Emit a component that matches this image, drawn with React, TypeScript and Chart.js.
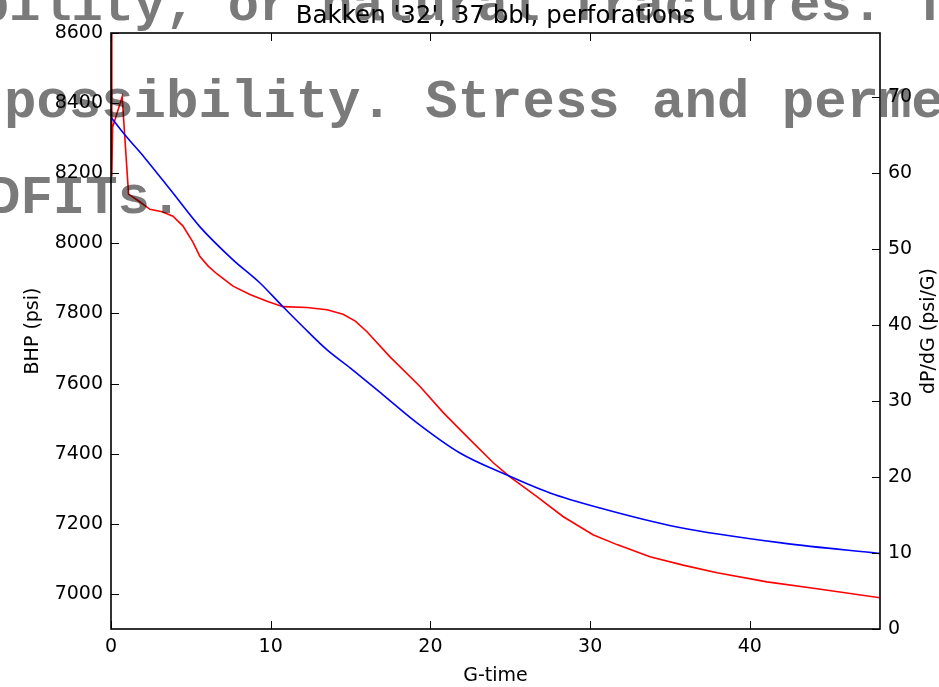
import React, { useEffect, useRef } from 'react';
import { Chart, registerables } from 'chart.js';

Chart.register(...registerables);

const chartTitle = "Bakken '32', 37 bbl, perforations";
const xTitle = 'G-time';
const leftTitle = 'BHP (psi)';
const rightTitle = 'dP/dG (psi/G)';

// BHP (left axis, blue)
const bhpG = [0, 0.88, 2.13, 3.82, 5.57, 7.64, 9.33, 10.77, 12.02, 13.53, 14.97, 17.03, 19.16, 21.85, 24.8, 27.49, 30.62, 35.44, 42.08, 48.2];
const bhpValues = [8360, 8309, 8243, 8147, 8047, 7953, 7887, 7819, 7762, 7696, 7645, 7568, 7488, 7402, 7339, 7288, 7245, 7191, 7145, 7115];

// dP/dG (right axis, red)
const derivG = [0, 0.05, 0.1, 0.7, 1.1, 1.8, 2.44, 3.2, 3.88, 4.51, 5.13, 5.57, 6.1, 6.64, 7.64, 8.7, 9.77, 10.77, 12.27, 13.53, 14.53, 15.3, 16.03, 17.47, 19.35, 20.79, 22.29, 23.92, 24.98, 26.67, 28.3, 30.18, 31.68, 33.75, 35.82, 37.95, 41.08, 44.21, 48.2];
const derivValues = [140, 59.5, 66, 70.0, 57.2, 56.2, 55.2, 54.9, 54.3, 53.0, 50.9, 49.0, 47.7, 46.7, 45.1, 44.0, 43.1, 42.4, 42.3, 42.0, 41.4, 40.5, 39.1, 35.8, 31.9, 28.5, 25.3, 21.9, 20.0, 17.4, 14.8, 12.4, 11.1, 9.5, 8.4, 7.4, 6.2, 5.3, 4.1];

// overlapping page text (grey)
const overlayText = ['bility, or natural fractures. T', 'possibility. Stress and permeability', 'DFITs.'];

const FONT = '"DejaVu Sans", "Noto Sans", sans-serif';
const plain = (v: any) => String(v);

const framePlugin = {
  id: 'frame',
  afterDatasetsDraw(chart: any) {
    const { ctx, chartArea: a, scales } = chart;
    const tl = 8;
    ctx.save();
    ctx.strokeStyle = '#000';
    ctx.lineWidth = 1;
    ctx.beginPath();
    scales.x.ticks.forEach((t: any) => {
      const px = Math.round(scales.x.getPixelForValue(t.value)) + 0.5;
      ctx.moveTo(px, a.bottom);
      ctx.lineTo(px, a.bottom - tl);
      ctx.moveTo(px, a.top);
      ctx.lineTo(px, a.top + tl);
    });
    scales.y.ticks.forEach((t: any) => {
      const py = Math.round(scales.y.getPixelForValue(t.value)) + 0.5;
      ctx.moveTo(a.left, py);
      ctx.lineTo(a.left + tl, py);
    });
    scales.y1.ticks.forEach((t: any) => {
      const py = Math.round(scales.y1.getPixelForValue(t.value)) + 0.5;
      ctx.moveTo(a.right, py);
      ctx.lineTo(a.right - tl, py);
    });
    ctx.stroke();
    ctx.lineWidth = 1.6;
    ctx.strokeRect(a.left, a.top, a.right - a.left, a.bottom - a.top);
    ctx.restore();
  },
  afterDraw(chart: any) {
    const { ctx, chartArea: a } = chart;
    ctx.save();
    ctx.fillStyle = '#000';
    ctx.font = `24.5px ${FONT}`;
    ctx.textAlign = 'center';
    ctx.textBaseline = 'middle';
    ctx.fillText(chartTitle, (a.left + a.right) / 2, 17);
    ctx.save();
    ctx.translate(929, (a.top + a.bottom) / 2);
    ctx.rotate(-Math.PI / 2);
    ctx.font = `19px ${FONT}`;
    ctx.fillText(rightTitle, 0, 0);
    ctx.restore();
    ctx.globalCompositeOperation = 'multiply';
    ctx.fillStyle = '#7a7a7a';
    ctx.textAlign = 'left';
    ctx.textBaseline = 'alphabetic';
    const styles = [
      { x: -22, y: 20, size: 52 },
      { x: 4, y: 117, size: 54 },
      { x: -12, y: 213, size: 54 },
    ];
    overlayText.forEach((s, i) => {
      ctx.font = `bold ${styles[i].size}px "Liberation Mono", "DejaVu Sans Mono", monospace`;
      ctx.fillText(s, styles[i].x, styles[i].y);
    });
    ctx.restore();
  },
};

export default function App() {
  const ref = useRef<HTMLCanvasElement | null>(null);
  useEffect(() => {
    if (!ref.current) return;
    const tickFont = { family: FONT, size: 19 };
    const noGrid = { display: false, drawTicks: false };
    const chart = new Chart(ref.current, {
      type: 'line',
      data: {
        datasets: [
          {
            label: 'BHP',
            data: bhpG.map((g, i) => ({ x: g, y: bhpValues[i] })),
            borderColor: '#0000ff',
            borderWidth: 1.6,
            pointRadius: 0,
            fill: false,
            cubicInterpolationMode: 'monotone',
            yAxisID: 'y',
          },
          {
            label: 'dP/dG',
            data: derivG.map((g, i) => ({ x: g, y: derivValues[i] })),
            borderColor: '#ff0000',
            borderWidth: 1.6,
            pointRadius: 0,
            fill: false,
            tension: 0,
            yAxisID: 'y1',
          },
        ],
      },
      options: {
        animation: false,
        responsive: false,
        devicePixelRatio: 1,
        layout: { padding: { top: 33, left: 0, right: 0, bottom: 0 } },
        plugins: { legend: { display: false }, tooltip: { enabled: false }, title: { display: false } },
        scales: {
          x: {
            type: 'linear',
            min: 0,
            max: 48.15,
            grid: noGrid,
            border: { display: false },
            ticks: { stepSize: 10, includeBounds: false, autoSkip: false, padding: 7, color: '#000', font: tickFont, callback: plain },
            title: { display: true, text: xTitle, color: '#000', font: tickFont, padding: { top: 0, bottom: 0 } },
            afterFit: (s: any) => { s.height = 58; },
          },
          y: {
            type: 'linear',
            position: 'left',
            min: 6900,
            max: 8600,
            grid: noGrid,
            border: { display: false },
            ticks: { stepSize: 200, includeBounds: false, autoSkip: false, padding: 8, color: '#000', font: tickFont, callback: plain },
            title: { display: true, text: leftTitle, color: '#000', font: tickFont, padding: { top: 22, bottom: 0 } },
            afterFit: (s: any) => { s.width = 111; },
          },
          y1: {
            type: 'linear',
            position: 'right',
            min: 0,
            max: 78.4,
            grid: noGrid,
            border: { display: false },
            ticks: { stepSize: 10, includeBounds: false, autoSkip: false, padding: 8, color: '#000', font: tickFont, callback: plain },
            afterFit: (s: any) => { s.width = 59; },
          },
        },
      },
      plugins: [framePlugin],
    } as any);
    return () => chart.destroy();
  }, []);
  return (
    <div style={{ position: 'fixed', left: 0, top: 0, width: 939, height: 687, background: '#fff' }}>
      <canvas ref={ref} width={939} height={687} style={{ display: 'block' }} />
    </div>
  );
}
